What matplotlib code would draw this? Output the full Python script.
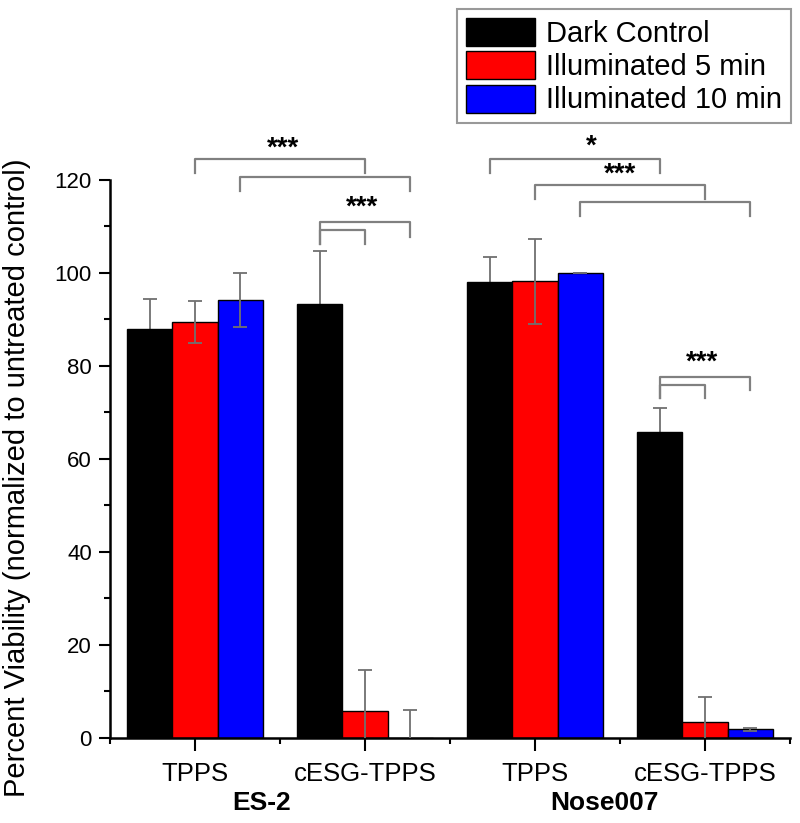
import numpy as np
import matplotlib.pyplot as plt

plt.rcParams['font.family'] = ['Liberation Sans', 'DejaVu Sans']

categories = ['TPPS', 'cESG-TPPS', 'TPPS', 'cESG-TPPS']
groups = ['ES-2', 'Nose007']
series = ['Dark Control', 'Illuminated 5 min', 'Illuminated 10 min']
colors = ['#000000', '#ff0000', '#0000ff']

dark = [88.0, 93.3, 98.0, 65.8]
dark_err = [6.4, 11.5, 5.5, 5.2]
illum5 = [89.4, 5.9, 98.2, 3.4]
illum5_err = [4.5, 8.7, 9.1, 5.4]
illum10 = [94.2, 0.0, 100.0, 1.9]
illum10_err = [5.8, 6.1, 0.0, 0.3]

# significance brackets: (category, series) start, (category, series) end, top y, leg ends
brackets = [
    ((0, 1), (1, 1), 124.5, 121.6, 121.6),
    ((0, 2), (1, 2), 120.6, 117.7, 117.7),
    ((1, 0), (1, 2), 110.9, 106.2, 107.8),
    ((1, 0), (1, 1), 109.2, 106.2, 106.2),
    ((2, 0), (3, 0), 124.5, 121.6, 121.6),
    ((2, 1), (3, 1), 118.9, 115.9, 115.9),
    ((2, 2), (3, 2), 115.2, 112.3, 112.3),
    ((3, 0), (3, 2), 77.7, 73.1, 74.8),
    ((3, 0), (3, 1), 76.0, 73.1, 73.1),
]
stars = [('***', 1.52, 126.7), ('***', 1.98, 114.0), ('*', 3.33, 127.2),
         ('***', 3.50, 121.1), ('***', 3.98, 80.7)]

x = np.arange(1, len(categories) + 1)
w = 0.265

fig = plt.figure(figsize=(8, 8.23), dpi=100)
ax = fig.add_axes([0.1375, 0.1033, 0.85, 0.678])

vals = [dark, illum5, illum10]
errs = [dark_err, illum5_err, illum10_err]
handles = []
for i in range(3):
    pos = x + (i - 1) * w
    h = ax.bar(pos, vals[i], w, color=colors[i], edgecolor='black', linewidth=1, label=series[i], zorder=2)
    handles.append(h)
    # the black bars hide the lower half of their error bars
    ez = 1 if i == 0 else 3
    ax.errorbar(pos, vals[i], yerr=errs[i], fmt='none', ecolor='#707070', elinewidth=1.3,
                capsize=5, capthick=1.3, zorder=ez)

for (c1, s1), (c2, s2), ytop, yl1, yl2 in brackets:
    x1 = x[c1] + (s1 - 1) * w
    x2 = x[c2] + (s2 - 1) * w
    ax.plot([x1, x1, x2, x2], [yl1, ytop, ytop, yl2], color='#808080', lw=1.6, clip_on=False, zorder=4)

for s, sx, sy in stars:
    ax.text(sx, sy, s, ha='center', va='center', fontsize=20, fontweight='bold', clip_on=False)

ax.set_xlim(0.5, 4.5)
ax.set_ylim(0, 120)
ax.set_xticks(x)
ax.set_xticklabels(categories, fontsize=18.5)
ax.set_xticks(np.arange(0.5, 4.6, 1.0), minor=True)
ax.set_yticks(np.arange(0, 121, 20))
ax.set_yticks(np.arange(10, 120, 20), minor=True)
ax.tick_params(axis='y', which='major', labelsize=16, length=8, width=1.5, direction='out', pad=5)
ax.tick_params(axis='y', which='minor', length=4.5, width=1.5, direction='out')
ax.tick_params(axis='x', which='major', length=9, width=1.5, direction='out', pad=8)
ax.tick_params(axis='x', which='minor', length=4.5, width=1.5, direction='out')
for side in ['top', 'right']:
    ax.spines[side].set_visible(False)
for side in ['left', 'bottom']:
    ax.spines[side].set_linewidth(1.8)

ax.set_ylabel('Percent Viability (normalized to untreated control)', fontsize=21)
ax.yaxis.set_label_coords(-0.116, 0.466)

ax.text(1.39, -0.116, groups[0], transform=ax.get_xaxis_transform(), ha='center', va='center',
        fontsize=19, fontweight='bold')
ax.text(3.41, -0.116, groups[1], transform=ax.get_xaxis_transform(), ha='center', va='center',
        fontsize=19, fontweight='bold')

leg = fig.legend(handles=handles, loc='upper right', bbox_to_anchor=(791 / 800, 1 - 9 / 823),
                 fontsize=21, handlelength=2.35, handleheight=1.1, labelspacing=0.12,
                 handletextpad=0.4, borderpad=0.3, borderaxespad=0, fancybox=False)
leg.get_frame().set_edgecolor('#808080')
leg.get_frame().set_linewidth(1.5)

plt.savefig('out.png')
